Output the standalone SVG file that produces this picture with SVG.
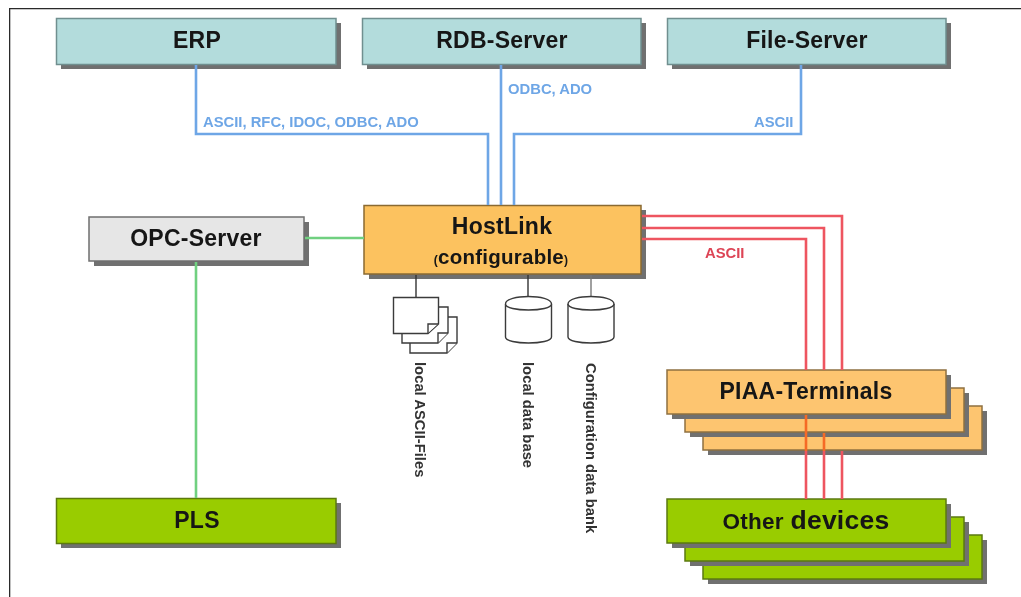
<svg xmlns="http://www.w3.org/2000/svg" width="1021" height="597" viewBox="0 0 1021 597">
<style>
.t{font-family:"Liberation Sans",Arial,sans-serif;font-weight:700;font-size:23px;letter-spacing:.25px;fill:#141414;text-anchor:middle}
.sh{fill:#6f6f6f}
.teal{fill:#b3dcdc;stroke:#6f8f8f;stroke-width:1.5}
.grey{fill:#e6e6e6;stroke:#6f6f6f;stroke-width:1.5}
.or{fill:#fcc25f;stroke:#8a6a30;stroke-width:1.5}
.lor{fill:#fdc570;stroke:#8f7040;stroke-width:1.5}
.gr{fill:#99cc00;stroke:#5c7a10;stroke-width:1.5}
.blue{fill:none;stroke:#6ea6e6;stroke-width:2.6}
.green{fill:none;stroke:#70d080;stroke-width:2.6}
.red{fill:none;stroke:#ee5560;stroke-width:2.6}
.redo{fill:none;stroke:#f56a25;stroke-width:2.6}
.lb{font-family:"Liberation Sans",Arial,sans-serif;font-weight:700;font-size:14.8px;text-anchor:start}
.rot{font-family:"Liberation Sans",Arial,sans-serif;font-weight:700;font-size:14.8px;fill:#333}
.ic{fill:#fff;stroke:#3a3a3a;stroke-width:1.4}
</style>
<defs><filter id="soft" x="0" y="0" width="100%" height="100%"><feGaussianBlur stdDeviation="0.6"/></filter></defs>
<rect width="1021" height="597" fill="#fff"/>
<g filter="url(#soft)">
<path id="frame" d="M1021 8.500H9.500V597" fill="none" stroke="#2a2a2a" stroke-width="1.6"/>
<g id="erp"><rect class="sh" x="61" y="23" width="280" height="46"/><rect class="teal" x="56.500" y="18.500" width="279.500" height="46"/><text class="t" x="197" y="48">ERP</text></g>
<g id="rdb-server"><rect class="sh" x="367" y="23" width="279" height="46"/><rect class="teal" x="362.500" y="18.500" width="278.500" height="46"/><text class="t" x="502" y="48">RDB-Server</text></g>
<g id="file-server"><rect class="sh" x="672" y="23" width="279" height="46"/><rect class="teal" x="667.500" y="18.500" width="278.500" height="46"/><text class="t" x="807" y="48">File-Server</text></g>
<g id="opc-server"><rect class="sh" x="94" y="222" width="215" height="44"/><rect class="grey" x="89" y="217" width="215" height="44"/><text class="t" x="196" y="246">OPC-Server</text></g>
<g id="hostlink"><rect class="sh" x="369" y="210" width="277" height="69"/><rect class="or" x="364" y="205.500" width="277" height="68.500"/><text class="t" x="502" y="234">HostLink</text><text class="t" style="font-size:20.500px" x="501" y="264"><tspan font-size="12">(</tspan>configurable<tspan font-size="12">)</tspan></text></g>
<g id="pls"><rect class="sh" x="61" y="503" width="280" height="45"/><rect class="gr" x="56.500" y="498.500" width="279.500" height="45"/><text class="t" x="197" y="528">PLS</text></g>
<g id="piaa-terminals">
<rect class="sh" x="708" y="411" width="279" height="44"/><rect class="lor" x="703" y="406" width="279" height="44"/>
<rect class="sh" x="690" y="393" width="279" height="44"/><rect class="lor" x="685" y="388" width="279" height="44"/>
<rect class="sh" x="672" y="375" width="279" height="44"/><rect class="lor" x="667" y="370" width="279" height="44"/>
<text class="t" x="806" y="399">PIAA-Terminals</text></g>
<g id="other-devices">
<rect class="sh" x="708" y="540" width="279" height="44"/><rect class="gr" x="703" y="535" width="279" height="44"/>
<rect class="sh" x="690" y="522" width="279" height="44"/><rect class="gr" x="685" y="517" width="279" height="44"/>
<rect class="sh" x="672" y="504" width="279" height="44"/><rect class="gr" x="667" y="499" width="279" height="44"/>
<text class="t" x="806" y="529"><tspan font-size="22.500">Other</tspan> <tspan font-size="26.500">devices</tspan></text></g>
<g id="connectors">
<path class="blue" d="M196 65V134H488V205"/>
<path class="blue" d="M501 65V205"/>
<path class="blue" d="M801 65V134H514V205"/>
<path class="green" d="M305 238H364"/>
<path class="green" d="M196 262V498"/>
<path class="red" d="M642 216H842V370"/><path class="red" d="M642 228H824V370"/><path class="red" d="M642 239H806V370"/>
<path class="red" d="M806 451V499"/><path class="red" d="M824 451V499"/><path class="red" d="M842 451V499"/>
<path class="redo" d="M806 415V451"/><path class="redo" d="M824 433V451"/>
<path d="M416 275V297M528 275V297" fill="none" stroke="#333" stroke-width="1.4"/><path d="M591 275V297" fill="none" stroke="#777" stroke-width="1.4"/>
</g>
<g id="labels">
<text class="lb" fill="#6ea6e6" x="203" y="127">ASCII, RFC, IDOC, ODBC, ADO</text>
<text class="lb" fill="#6ea6e6" x="508" y="93.500">ODBC, ADO</text>
<text class="lb" fill="#6ea6e6" x="754" y="127">ASCII</text>
<text class="lb" fill="#dd4455" x="705" y="258">ASCII</text>
</g>
<g id="local-ascii-files">
<path class="ic" d="M410 317H457V343L447 353H410Z"/><path class="ic" d="M447 353V343H457" />
<path class="ic" d="M402 307H448V333L438 343H402Z"/><path class="ic" d="M438 343V333H448"/>
<path class="ic" d="M393.500 297.500H438.500V324L428 333.500H393.500Z"/><path class="ic" d="M428 333V324H438"/>
<text class="rot" transform="translate(415 362) rotate(90)">local ASCII-Files</text></g>
<g id="local-data-base">
<path class="ic" d="M505.500 304C505.500 294 551.500 294 551.500 304V337C551.500 345 505.500 345 505.500 337Z"/><path class="ic" d="M505.500 304C505.500 312 551.500 312 551.500 304" fill="none"/>
<text class="rot" transform="translate(523 362) rotate(90)">local data base</text></g>
<g id="configuration-data-bank">
<path class="ic" d="M568 304C568 294 614 294 614 304V337C614 345 568 345 568 337Z"/><path class="ic" d="M568 304C568 312 614 312 614 304" fill="none"/>
<text class="rot" transform="translate(586 363) rotate(90)">Configuration data bank</text></g>
</g>
</svg>
